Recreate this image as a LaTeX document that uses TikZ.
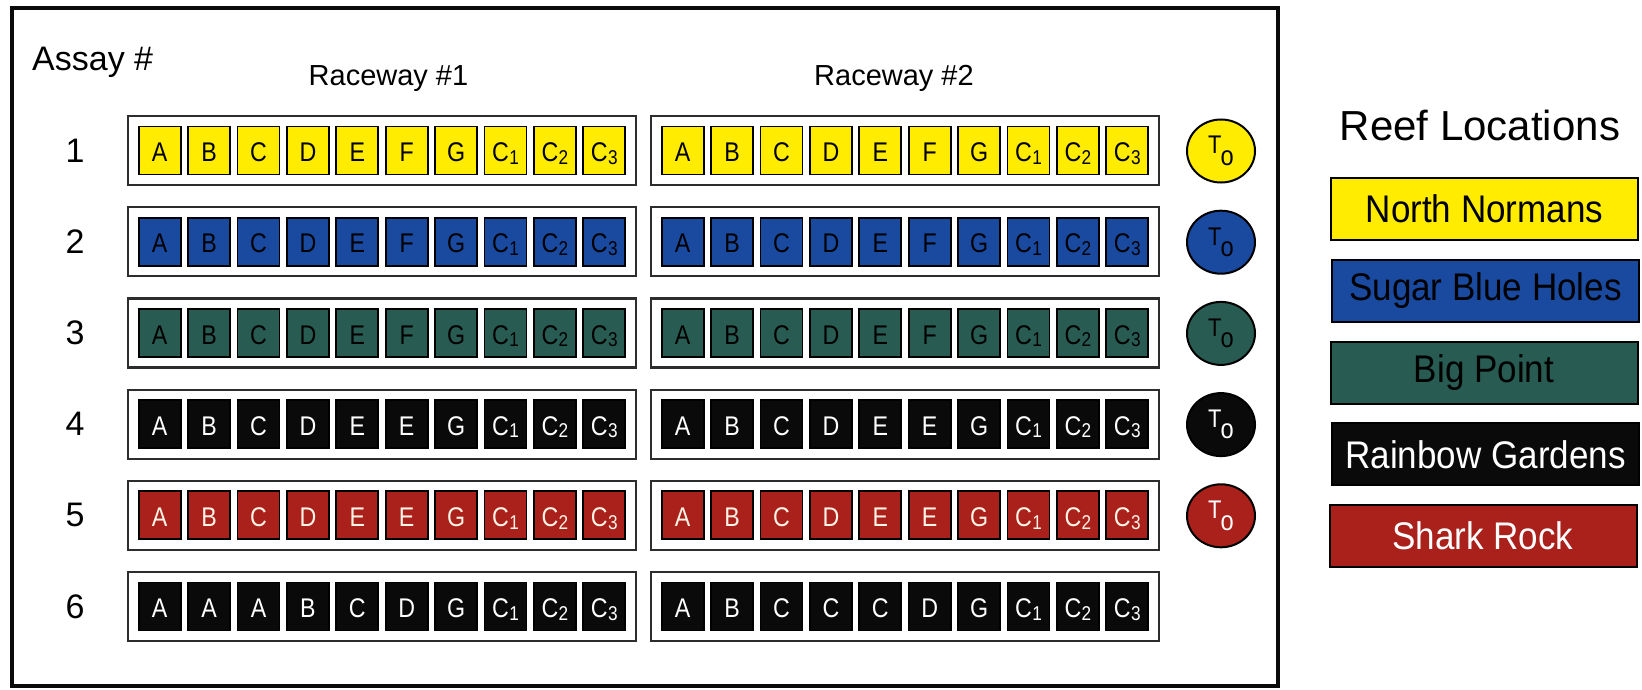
\documentclass[tikz,border=0pt]{standalone}
\usepackage{fontspec}
\setmainfont{Liberation Sans}
\newfontfamily\cellfont[FakeStretch=0.86]{Liberation Sans}
\newfontfamily\legfont[FakeStretch=0.91]{Liberation Sans}
\usetikzlibrary{shapes.geometric}
\definecolor{reefyellow}{RGB}{255,236,0}
\definecolor{reefblue}{RGB}{26,74,160}
\definecolor{reefteal}{RGB}{40,92,82}
\definecolor{reefred}{RGB}{170,32,26}
\definecolor{reefblack}{RGB}{10,10,10}
\definecolor{framegray}{RGB}{45,45,45}
\definecolor{cream}{RGB}{255,244,230}
\newcommand{\Csub}[1]{C\kern0.3pt{\fontsize{20}{20}\selectfont\raisebox{-2.5pt}{#1}}}
\newcommand{\Tsub}{\fontsize{25.5}{26}\selectfont T\kern-0.8pt\raisebox{-11.5pt}{\fontsize{27.5}{28}\selectfont o}}
\tikzset{
  cell/.style={draw=black, line width=1.8pt, minimum width=42pt, minimum height=48pt, inner sep=0pt,
    font=\cellfont\fontsize{27}{27}\selectfont, text height=22.5pt, text depth=0pt},
  racebox/.style={draw=framegray, line width=2.2pt, fill=white, minimum width=508pt, minimum height=69pt, inner sep=0pt},
  tcirc/.style={ellipse, draw=black, line width=2pt, minimum width=68pt, minimum height=63pt, inner sep=0pt,
    font=\cellfont},
  legbox/.style={draw=black, line width=2pt, minimum width=307pt, minimum height=62pt, inner sep=0pt,
    font=\legfont\fontsize{38.5}{39}\selectfont},
  rownum/.style={inner sep=0pt, font=\fontsize{34}{34}\selectfont},
  heading/.style={inner sep=0pt, font=\fontsize{29}{29}\selectfont},
}
\newcommand{\assayrow}[6]{%
  \node[racebox] (box#1a) at (382,#2) {};
  \node[racebox] (box#1b) at (905,#2) {};
  \foreach \lab [count=\ci] in {#5} {\node[cell, fill=#3, text=#4] (cell#1a\ci) at ({382+(\ci-5.5)*49.4},#2) {\lab};}
  \foreach \lab [count=\ci] in {#6} {\node[cell, fill=#3, text=#4] (cell#1b\ci) at ({905+(\ci-5.5)*49.4},#2) {\lab};}
  \node[rownum] (num#1) at (75,#2) {#1};
}
\begin{document}
\begin{tikzpicture}[x=1pt,y=-1pt]
\useasboundingbox (0,0) rectangle (1642,690);
\fill[white] (0,0) rectangle (1642,690);
\draw[line width=4pt, reefblack] (12,8) rectangle (1278,686);
\node[inner sep=0pt, anchor=base west, font=\fontsize{34}{34}\selectfont] (assay) at (32,71) {Assay \#};
\node[heading, anchor=base] (rw1) at (388.5,86) {Raceway \#1};
\node[heading, anchor=base] (rw2) at (894,86) {Raceway \#2};
\assayrow{1}{150.5}{reefyellow}{black}{A,B,C,D,E,F,G,\Csub{1},\Csub{2},\Csub{3}}{A,B,C,D,E,F,G,\Csub{1},\Csub{2},\Csub{3}}
\assayrow{2}{241.7}{reefblue}{black}{A,B,C,D,E,F,G,\Csub{1},\Csub{2},\Csub{3}}{A,B,C,D,E,F,G,\Csub{1},\Csub{2},\Csub{3}}
\assayrow{3}{332.9}{reefteal}{black}{A,B,C,D,E,F,G,\Csub{1},\Csub{2},\Csub{3}}{A,B,C,D,E,F,G,\Csub{1},\Csub{2},\Csub{3}}
\assayrow{4}{424.1}{reefblack}{white}{A,B,C,D,E,E,G,\Csub{1},\Csub{2},\Csub{3}}{A,B,C,D,E,E,G,\Csub{1},\Csub{2},\Csub{3}}
\assayrow{5}{515.3}{reefred}{cream}{A,B,C,D,E,E,G,\Csub{1},\Csub{2},\Csub{3}}{A,B,C,D,E,E,G,\Csub{1},\Csub{2},\Csub{3}}
\assayrow{6}{606.5}{reefblack}{white}{A,A,A,B,C,D,G,\Csub{1},\Csub{2},\Csub{3}}{A,B,C,C,C,D,G,\Csub{1},\Csub{2},\Csub{3}}
\node[tcirc, fill=reefyellow, text=black] (t1) at (1221,151) {\Tsub};
\node[tcirc, fill=reefblue, text=black] (t2) at (1221,242.2) {\Tsub};
\node[tcirc, fill=reefteal, text=black] (t3) at (1221,333.4) {\Tsub};
\node[tcirc, fill=reefblack, text=white] (t4) at (1221,424.6) {\Tsub};
\node[tcirc, fill=reefred, text=white] (t5) at (1221,515.8) {\Tsub};
\node[inner sep=0pt, anchor=base, font=\fontsize{42}{42}\selectfont] (legtitle) at (1480,141) {Reef Locations};
\node[legbox, fill=reefyellow, text=black] (leg1) at (1484.5,209) {North Normans};
\node[legbox, fill=reefblue, text=black] (leg2) at (1485.5,290.75) {Sugar Blue Holes};
\node[legbox, fill=reefteal, text=black] (leg3) at (1484,372.5) {Big Point};
\node[legbox, fill=reefblack, text=white] (leg4) at (1485.5,454.25) {Rainbow Gardens};
\node[legbox, fill=reefred, text=white] (leg5) at (1483,536) {Shark Rock};
\end{tikzpicture}
\end{document}
